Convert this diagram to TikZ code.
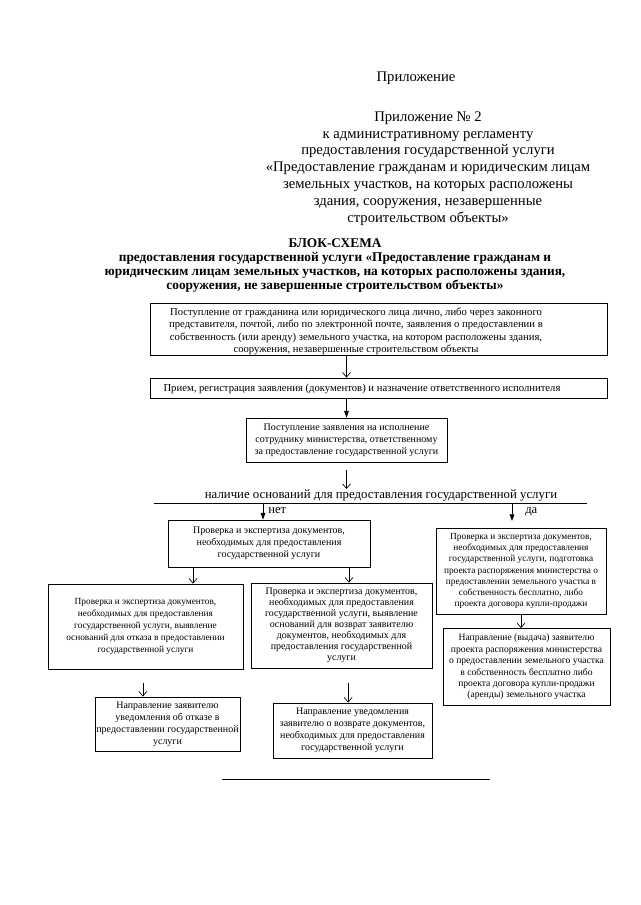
\documentclass[tikz,border=0pt]{standalone}
\usepackage{fontspec}
\setmainfont{Liberation Serif}
\usetikzlibrary{arrows.meta}
\begin{document}
\begin{tikzpicture}[x=0.75pt,y=-0.75pt,
  frame/.style 2 args={draw, line width=0.6pt, minimum width=#1*0.75pt, minimum height=#2*0.75pt, inner sep=0pt},
  boxtext/.style={align=center, inner sep=0pt, font=\fontsize{7.5}{9}\selectfont},
  smalltext/.style={align=center, inner sep=0pt, font=\fontsize{7}{8.3}\selectfont},
  bigtext/.style={align=center, inner sep=0pt, font=\fontsize{8}{9.3}\selectfont},
  bx/.style 2 args={frame={#1}{#2}, boxtext},
  oarr/.style={line width=0.5pt, -{Straight Barb[length=3.5pt,width=6pt]}},
  farr/.style={line width=0.6pt, -{Triangle[length=5pt,width=3.5pt]}},
  hdr/.style={align=center, inner sep=0pt, font=\fontsize{11}{12.6}\selectfont}
]
\useasboundingbox (0,0) rectangle (640,905);

% header
\node[hdr] (app) at (416,78) {Приложение};
\node[hdr] (app2) at (428,168.5) {Приложение № 2\\
к административному регламенту\\
предоставления государственной услуги\\
«Предоставление гражданам и юридическим лицам\\
земельных участков, на которых расположены\\
здания, сооружения, незавершенные\\
строительством объекты»};

% title
\node[align=center, inner sep=0pt, font=\bfseries\fontsize{10}{10.3}\selectfont] (title) at (335,265.5) {БЛОК-СХЕМА\\
предоставления государственной услуги «Предоставление гражданам и\\
юридическим лицам земельных участков, на которых расположены здания,\\
сооружения, не завершенные строительством объекты»};

% box 1
\node[frame={457}{52}] (b1) at (378.5,329) {};
\node[bigtext] (t1) at (356,331.5) {Поступление от гражданина или юридического лица лично, либо через законного\\
представителя, почтой, либо по электронной почте, заявления о предоставлении в\\
собственность (или аренду) земельного участка, на котором расположены здания,\\
сооружения, незавершенные строительством объекты};

% box 2
\node[frame={457}{20}] (b2) at (378.5,388) {};
\node[bigtext] (t2) at (362,388.5) {Прием, регистрация заявления (документов) и назначение ответственного исполнителя};

% box 3
\node[bx={201}{44}] (b3) at (346.5,440) {Поступление заявления на исполнение\\
сотруднику министерства, ответственному\\
за предоставление государственной услуги};

% decision
\node[inner sep=0pt, font=\fontsize{9.6}{12}\selectfont] (dec) at (381,495) {наличие оснований для предоставления государственной услуги};
\coordinate (dl) at (154,503);
\coordinate (dr) at (587,503);
\coordinate (net) at (263,503);
\coordinate (da) at (512,503);

% box 4
\node[bx={202}{47}] (b4) at (269,543.5) {Проверка и экспертиза документов,\\
необходимых для предоставления\\
государственной услуги};

% box 5
\node[frame={195}{85}, align=center, inner sep=0pt, font=\fontsize{7}{9}\selectfont] (b5) at (145.5,626.5) {Проверка и экспертиза документов,\\
необходимых для предоставления\\
государственной услуги, выявление\\
оснований для отказа в предоставлении\\
государственной услуги};

% box 6
\node[frame={181}{85}, align=center, inner sep=0pt, font=\fontsize{7.5}{8.3}\selectfont] (b6) at (341.5,625.5) {Проверка и экспертиза документов,\\
необходимых для предоставления\\
государственной услуги, выявление\\
оснований для возврат заявителю\\
документов, необходимых для\\
предоставления государственной\\
услуги};

% box 7
\node[bx={145}{54}] (b7) at (167.5,724) {Направление заявителю\\
уведомления об отказе в\\
предоставлении государственной\\
услуги};

% box 8
\node[bx={159}{55}] (b8) at (352.5,730.5) {Направление уведомления\\
заявителю о возврате документов,\\
необходимых для предоставления\\
государственной услуги};

% box 9
\node[frame={170}{86}, smalltext] (b9) at (521,571) {Проверка и экспертиза документов,\\
необходимых для предоставления\\
государственной услуги, подготовка\\
проекта распоряжения министерства о\\
предоставлении земельного участка в\\
собственность бесплатно, либо\\
проекта договора купли-продажи};

% box 10
\node[frame={167}{77}, align=center, inner sep=0pt, font=\fontsize{7.2}{8.6}\selectfont] (b10) at (526.5,667) {Направление (выдача) заявителю\\
проекта распоряжения министерства\\
о предоставлении земельного участка\\
в собственность бесплатно либо\\
проекта договора купли-продажи\\
(аренды) земельного участка};

% connectors
\draw[oarr] (b1.south -| b3) -- (b2.north -| b3);
\draw[farr] (b2.south -| b3) -- (b3.north);
\draw[oarr, shorten <=6pt] (b3.south) -- (b3.south |- dec.north);
\draw[line width=0.7pt] (dl) -- (dr);
\draw[farr] (net) -- (net |- b4.north);
\node[anchor=west, inner sep=0pt, font=\fontsize{9.5}{11}\selectfont] (netl) at (268,511) {нет};
\draw[farr, shorten >=5pt] (da) -- (da |- b9.north);
\node[anchor=west, inner sep=0pt, font=\fontsize{9.5}{11}\selectfont] (dal) at (525,512) {да};
\draw[oarr] ([xshift=-57pt]b4.south) -- ([xshift=-57pt]b4.south |- b5.north);
\draw[oarr] ([xshift=60pt]b4.south) -- ([xshift=60pt]b4.south |- b6.north);
\draw[oarr, shorten <=10pt] ([xshift=-2pt]b5.south) -- ([xshift=-2pt]b5.south |- b7.north);
\draw[oarr, shorten <=11pt] ([xshift=5pt]b6.south) -- ([xshift=5pt]b6.south |- b8.north);
\draw[oarr] (b9.south) -- (b9.south |- b10.north);

% bottom rule
\coordinate (bl) at (222,779);
\coordinate (br) at (490,779);
\draw[line width=0.6pt] (bl) -- (br);
\end{tikzpicture}
\end{document}
